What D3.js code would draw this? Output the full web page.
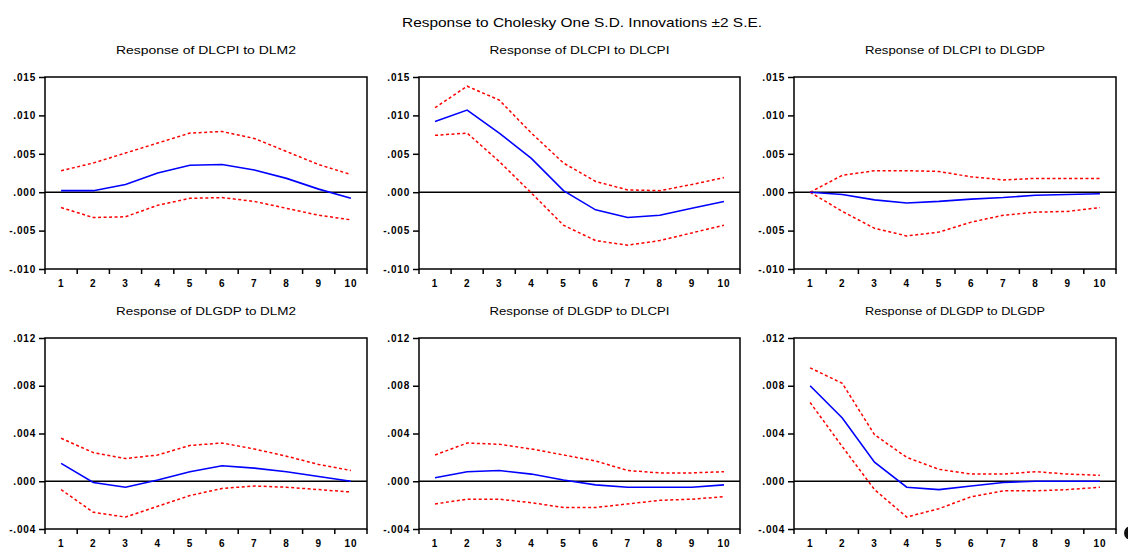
<!DOCTYPE html>
<html>
<head>
<meta charset="utf-8">
<script src="https://cdn.jsdelivr.net/npm/d3@7"></script>
<style>
  html, body { margin: 0; padding: 0; background: #fff; }
  svg { display: block; }
  text { font-family: "Liberation Sans", Arial, sans-serif; fill: #000; }
</style>
</head>
<body>
<svg id="chart" width="1128" height="548"></svg>
<script>
// ---------------- DATA ----------------
const periods = [1, 2, 3, 4, 5, 6, 7, 8, 9, 10];
const mainTitle = "Response to Cholesky One S.D. Innovations \u00B12 S.E.";
const panelTitles = [
  "Response of DLCPI to DLM2", "Response of DLCPI to DLCPI", "Response of DLCPI to DLGDP",
  "Response of DLGDP to DLM2", "Response of DLGDP to DLCPI", "Response of DLGDP to DLGDP"
];
const topTicks = [-0.010, -0.005, 0.000, 0.005, 0.010, 0.015];
const topTickLabels = ["-.010", "-.005", ".000", ".005", ".010", ".015"];
const bottomTicks = [-0.004, 0.000, 0.004, 0.008, 0.012];
const bottomTickLabels = ["-.004", ".000", ".004", ".008", ".012"];

// DLCPI to DLM2
const resp1 = [0.0002, 0.0002, 0.0010, 0.0025, 0.0035, 0.0036, 0.0029, 0.0018, 0.0004, -0.0008];
const up1   = [0.0028, 0.0038, 0.0051, 0.0064, 0.0077, 0.0079, 0.0070, 0.0053, 0.0036, 0.0023];
const lo1   = [-0.0020, -0.0033, -0.0032, -0.0017, -0.0008, -0.0007, -0.0012, -0.0021, -0.0030, -0.0036];
// DLCPI to DLCPI
const resp2 = [0.0092, 0.0107, 0.0077, 0.0044, 0.0002, -0.0023, -0.0033, -0.0030, -0.0021, -0.0012];
const up2   = [0.0110, 0.0138, 0.0120, 0.0077, 0.0038, 0.0014, 0.0003, 0.0002, 0.0010, 0.0019];
const lo2   = [0.0074, 0.0077, 0.0040, -0.0001, -0.0043, -0.0063, -0.0069, -0.0063, -0.0053, -0.0043];
// DLCPI to DLGDP
const resp3 = [0.0000, -0.0003, -0.0010, -0.0014, -0.0012, -0.0009, -0.0007, -0.0004, -0.0003, -0.0002];
const up3   = [0.0000, 0.0022, 0.0028, 0.0028, 0.0027, 0.0020, 0.0016, 0.0018, 0.0018, 0.0018];
const lo3   = [0.0000, -0.0025, -0.0047, -0.0057, -0.0052, -0.0039, -0.0030, -0.0026, -0.0025, -0.0020];
// DLGDP to DLM2
const resp4 = [0.0015, -0.0001, -0.0005, 0.0001, 0.0008, 0.0013, 0.0011, 0.0008, 0.0004, 0.0000];
const up4   = [0.0036, 0.0024, 0.0019, 0.0022, 0.0030, 0.0032, 0.0027, 0.0021, 0.0014, 0.0009];
const lo4   = [-0.0007, -0.0026, -0.0030, -0.0021, -0.0012, -0.0006, -0.0004, -0.0005, -0.0007, -0.0009];
// DLGDP to DLCPI
const resp5 = [0.0003, 0.0008, 0.0009, 0.0006, 0.0001, -0.0003, -0.0005, -0.0005, -0.0005, -0.0003];
const up5   = [0.0022, 0.0032, 0.0031, 0.0027, 0.0022, 0.0017, 0.0009, 0.0007, 0.0007, 0.0008];
const lo5   = [-0.0019, -0.0015, -0.0015, -0.0018, -0.0022, -0.0022, -0.0019, -0.0016, -0.0015, -0.0013];
// DLGDP to DLGDP
const resp6 = [0.0080, 0.0053, 0.0016, -0.0005, -0.0007, -0.0004, -0.0001, 0.0000, 0.0000, 0.0000];
const up6   = [0.0095, 0.0082, 0.0039, 0.0020, 0.0010, 0.0006, 0.0006, 0.0008, 0.0006, 0.0005];
const lo6   = [0.0066, 0.0029, -0.0007, -0.0030, -0.0023, -0.0013, -0.0008, -0.0008, -0.0007, -0.0005];

const responses = [resp1, resp2, resp3, resp4, resp5, resp6];
const uppers = [up1, up2, up3, up4, up5, up6];
const lowers = [lo1, lo2, lo3, lo4, lo5, lo6];

// ---------------- LAYOUT ----------------
const cols = [[45, 367], [419, 740], [794, 1116]];
const rows = [[77, 269], [338, 529]];

const svg = d3.select("#chart");

svg.append("text")
  .attr("x", 582).attr("y", 27)
  .attr("text-anchor", "middle")
  .attr("font-size", 13)
  .attr("textLength", 360).attr("lengthAdjust", "spacingAndGlyphs")
  .text(mainTitle);

for (let i = 0; i < 6; i++) {
  const r = Math.floor(i / 3), c = i % 3;
  const [x0, x1] = cols[c];
  const [y0, y1] = rows[r];
  const ticks = r === 0 ? topTicks : bottomTicks;
  const tickLabels = r === 0 ? topTickLabels : bottomTickLabels;

  const x = d3.scaleBand().domain(periods).range([x0, x1]).paddingInner(0).paddingOuter(0);
  const y = d3.scaleLinear().domain([ticks[0], ticks[ticks.length - 1]]).range([y1, y0]);
  const g = svg.append("g");

  // panel title
  g.append("text")
    .attr("x", (x0 + x1) / 2).attr("y", (y0 - 23))
    .attr("text-anchor", "middle")
    .attr("font-size", 11)
    .attr("textLength", 180).attr("lengthAdjust", "spacingAndGlyphs")
    .text(panelTitles[i]);

  // y axis
  const yAxis = d3.axisLeft(y).tickValues(ticks)
    .tickFormat((d, k) => tickLabels[k]).tickSize(6).tickPadding(3);
  const ya = g.append("g").attr("transform", `translate(${x0},0)`).call(yAxis);
  ya.select(".domain").remove();
  ya.selectAll("line").attr("stroke", "#000").attr("stroke-width", 1.5);
  ya.selectAll("text").attr("font-size", 10).attr("font-weight", "bold")
    .attr("letter-spacing", 0.8)
    .attr("font-family", "'Liberation Sans', Arial, sans-serif");

  // x axis: ticks on band boundaries, labels at band centres
  const bounds = periods.map(p => x(p)).concat([x1]);
  g.selectAll(".xt").data(bounds).enter().append("line")
    .attr("x1", d => d).attr("x2", d => d)
    .attr("y1", y1).attr("y2", y1 + 5)
    .attr("stroke", "#000").attr("stroke-width", 1.5);
  g.selectAll(".xl").data(periods).enter().append("text")
    .attr("x", d => x(d) + x.bandwidth() / 2)
    .attr("y", y1 + 18)
    .attr("text-anchor", "middle")
    .attr("font-size", 10).attr("font-weight", "bold")
    .attr("letter-spacing", 0.8)
    .text(d => d);

  // frame
  g.append("rect")
    .attr("x", x0).attr("y", y0).attr("width", x1 - x0).attr("height", y1 - y0)
    .attr("fill", "none").attr("stroke", "#000").attr("stroke-width", 1.5);

  // zero line
  g.append("line")
    .attr("x1", x0).attr("x2", x1).attr("y1", y(0)).attr("y2", y(0))
    .attr("stroke", "#000").attr("stroke-width", 1.5);

  const line = d3.line()
    .x((d, k) => x(periods[k]) + x.bandwidth() / 2)
    .y(d => y(d));

  g.append("path").datum(uppers[i]).attr("d", line)
    .attr("fill", "none").attr("stroke", "#ff0000").attr("stroke-width", 1.5)
    .attr("stroke-dasharray", "3,2.5");
  g.append("path").datum(lowers[i]).attr("d", line)
    .attr("fill", "none").attr("stroke", "#ff0000").attr("stroke-width", 1.5)
    .attr("stroke-dasharray", "3,2.5");
  g.append("path").datum(responses[i]).attr("d", line)
    .attr("fill", "none").attr("stroke", "#0000ff").attr("stroke-width", 1.6);
}

// small dark blot at bottom-right corner of the picture
svg.append("circle").attr("cx", 1131).attr("cy", 533).attr("r", 7).attr("fill", "#111");
</script>
</body>
</html>
